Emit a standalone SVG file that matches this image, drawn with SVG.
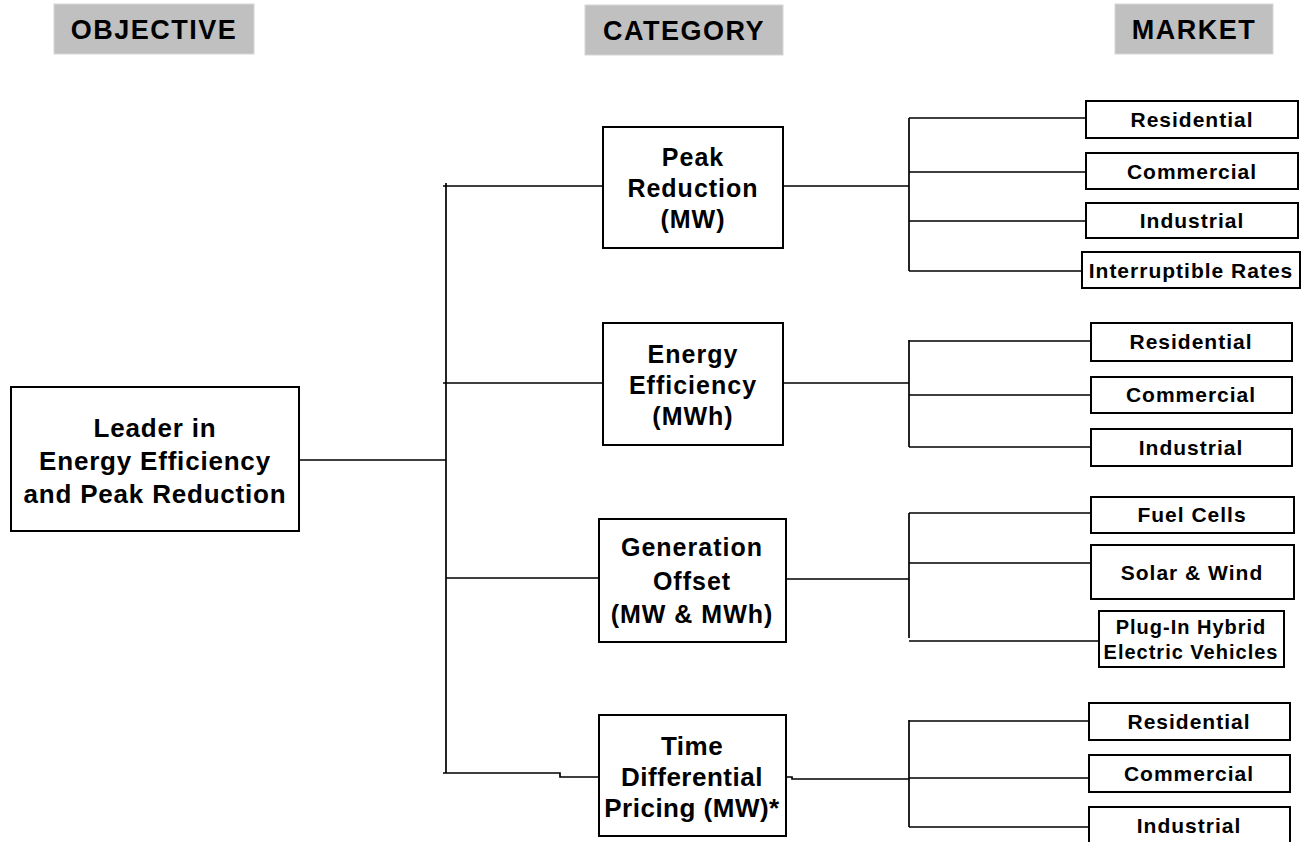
<svg xmlns="http://www.w3.org/2000/svg" width="1306" height="842" viewBox="0 0 1306 842">
<style>
.hdr{fill:#c0c0c0;stroke:#d6d6d6;stroke-width:1}
.box{fill:#fff;stroke:#000;stroke-width:2}
.ln{fill:none;stroke:#000;stroke-width:1.7}
text{font-family:"Liberation Sans",Arial,sans-serif;font-weight:bold;fill:#000;text-anchor:middle}
.h{font-size:27px;letter-spacing:1.5px}
.o{font-size:26px;letter-spacing:0.8px}
.c{font-size:25px;letter-spacing:1px}
.t{font-size:26px;letter-spacing:0.5px}
.m{font-size:21px;letter-spacing:1px}
.s{font-size:20px;letter-spacing:1px}
</style>
<rect width="1306" height="842" fill="#fff"/>
<g id="headers">
<rect class="hdr" x="54" y="4" width="200" height="50"/>
<text class="h" x="154" y="39">OBJECTIVE</text>
<rect class="hdr" x="585" y="5" width="198" height="50"/>
<text class="h" x="684" y="40">CATEGORY</text>
<rect class="hdr" x="1115" y="4" width="158" height="50"/>
<text class="h" x="1194" y="39">MARKET</text>
</g>
<g id="connectors">
<path class="ln" d="M299 460H446M446 183V773M443 186H603M443 383H603M446 578H599M443 773H560V777H599"/>
<path class="ln" d="M783 186H909M909 118V271M909 118H1086M909 172H1086M909 221H1086M909 271H1082"/>
<path class="ln" d="M783 383H909M909 340V447M909 341H1091M909 395H1091M909 447H1091"/>
<path class="ln" d="M786 579H909M909 513V638M909 513H1091M909 563H1091M909 641H1099"/>
<path class="ln" d="M786 777H792V779H909M909 720V827M909 721H1089M909 778H1089M909 827H1089"/>
</g>
<g id="objective">
<rect class="box" x="11" y="387" width="288" height="144"/>
<text class="o" x="155" y="437">Leader in</text>
<text class="o" x="155" y="470">Energy Efficiency</text>
<text class="o" x="155" y="503">and Peak Reduction</text>
</g>
<g id="peak">
<rect class="box" x="603" y="127" width="180" height="121"/>
<text class="c" x="693" y="166">Peak</text>
<text class="c" x="693" y="197">Reduction</text>
<text class="c" x="693" y="228">(MW)</text>
</g>
<g id="energy">
<rect class="box" x="603" y="323" width="180" height="122"/>
<text class="c" x="693" y="363">Energy</text>
<text class="c" x="693" y="394">Efficiency</text>
<text class="c" x="693" y="425">(MWh)</text>
</g>
<g id="generation">
<rect class="box" x="599" y="519" width="187" height="123"/>
<text class="c" x="692" y="556">Generation</text>
<text class="c" x="692" y="590">Offset</text>
<text class="c" x="692" y="623">(MW &amp; MWh)</text>
</g>
<g id="time">
<rect class="box" x="599" y="715" width="187" height="121"/>
<text class="t" x="692" y="755">Time</text>
<text class="t" x="692" y="786">Differential</text>
<text class="t" x="692" y="817">Pricing (MW)*</text>
</g>
<g id="pr-residential"><rect class="box" x="1086" y="101" width="212" height="37"/><text class="m" x="1192" y="127">Residential</text></g>
<g id="pr-commercial"><rect class="box" x="1086" y="153" width="212" height="36"/><text class="m" x="1192" y="179">Commercial</text></g>
<g id="pr-industrial"><rect class="box" x="1086" y="203" width="212" height="35"/><text class="m" x="1192" y="228">Industrial</text></g>
<g id="pr-interruptible"><rect class="box" x="1082" y="252" width="218" height="36"/><text class="m" x="1191" y="278">Interruptible Rates</text></g>
<g id="ee-residential"><rect class="box" x="1091" y="323" width="201" height="38"/><text class="m" x="1191" y="349">Residential</text></g>
<g id="ee-commercial"><rect class="box" x="1091" y="377" width="201" height="36"/><text class="m" x="1191" y="402">Commercial</text></g>
<g id="ee-industrial"><rect class="box" x="1091" y="429" width="201" height="37"/><text class="m" x="1191" y="455">Industrial</text></g>
<g id="go-fuel"><rect class="box" x="1091" y="497" width="203" height="36"/><text class="m" x="1192" y="522">Fuel Cells</text></g>
<g id="go-solar"><rect class="box" x="1091" y="545" width="203" height="54"/><text class="m" x="1192" y="580">Solar &amp; Wind</text></g>
<g id="go-plugin"><rect class="box" x="1099" y="611" width="185" height="56"/><text class="s" x="1191" y="634">Plug-In Hybrid</text><text class="s" x="1191" y="659">Electric Vehicles</text></g>
<g id="td-residential"><rect class="box" x="1089" y="703" width="201" height="37"/><text class="m" x="1189" y="729">Residential</text></g>
<g id="td-commercial"><rect class="box" x="1089" y="755" width="201" height="37"/><text class="m" x="1189" y="781">Commercial</text></g>
<g id="td-industrial"><rect class="box" x="1089" y="807" width="201" height="40"/><text class="m" x="1189" y="833">Industrial</text></g>
</svg>
